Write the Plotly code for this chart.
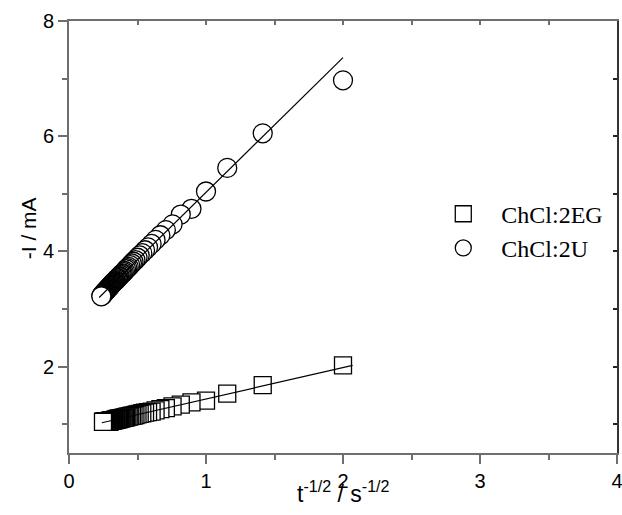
import plotly.graph_objects as go

# t^-1/2 values (s^-1/2)
x_2U = [2.000, 1.414, 1.155, 1.000, 0.894, 0.816, 0.756, 0.707, 0.667, 0.632,
        0.603, 0.577, 0.555, 0.535, 0.516, 0.500, 0.485, 0.471, 0.459, 0.447,
        0.436, 0.426, 0.417, 0.408, 0.400, 0.392, 0.385, 0.378, 0.371, 0.365,
        0.359, 0.354, 0.348, 0.343, 0.338, 0.333, 0.329, 0.324, 0.320, 0.316,
        0.312, 0.309, 0.305, 0.302, 0.298, 0.295, 0.292, 0.289, 0.286, 0.283,
        0.280, 0.277, 0.275, 0.272, 0.270, 0.267, 0.265, 0.263, 0.260, 0.258,
        0.256, 0.254, 0.252, 0.250, 0.248, 0.246, 0.244, 0.243, 0.241, 0.239,
        0.237, 0.236]
y_2U = [6.97, 6.05, 5.45, 5.04, 4.74, 4.64, 4.47, 4.37, 4.28, 4.20,
        4.13, 4.07, 4.02, 3.97, 3.93, 3.89, 3.85, 3.82, 3.79, 3.76,
        3.73, 3.71, 3.69, 3.66, 3.64, 3.62, 3.61, 3.59, 3.57, 3.56,
        3.54, 3.53, 3.52, 3.50, 3.49, 3.48, 3.47, 3.46, 3.45, 3.44,
        3.43, 3.42, 3.41, 3.40, 3.39, 3.38, 3.37, 3.37, 3.36, 3.35,
        3.34, 3.34, 3.33, 3.32, 3.32, 3.31, 3.30, 3.30, 3.29, 3.29,
        3.28, 3.27, 3.27, 3.26, 3.26, 3.25, 3.25, 3.24, 3.24, 3.23,
        3.23, 3.22]

x_2EG = [2.000, 1.414, 1.155, 1.000, 0.894, 0.816, 0.756, 0.707, 0.667, 0.632,
         0.603, 0.577, 0.555, 0.535, 0.516, 0.500, 0.485, 0.471, 0.459, 0.447,
         0.436, 0.426, 0.417, 0.408, 0.400, 0.392, 0.385, 0.378, 0.371, 0.365,
         0.359, 0.354, 0.348, 0.343, 0.338, 0.333, 0.329, 0.324, 0.320, 0.316,
         0.312, 0.309, 0.305, 0.302, 0.298, 0.295, 0.292, 0.289, 0.286, 0.283,
         0.280, 0.277, 0.275, 0.272, 0.270, 0.267, 0.265, 0.263, 0.260, 0.258,
         0.256, 0.254, 0.252, 0.250, 0.248]
y_2EG = [2.02, 1.68, 1.53, 1.41, 1.38, 1.34, 1.31, 1.28, 1.26, 1.24,
         1.22, 1.21, 1.20, 1.19, 1.18, 1.17, 1.16, 1.15, 1.15, 1.14,
         1.13, 1.13, 1.12, 1.12, 1.11, 1.11, 1.10, 1.10, 1.10, 1.09,
         1.09, 1.09, 1.08, 1.08, 1.08, 1.07, 1.07, 1.07, 1.07, 1.06,
         1.06, 1.06, 1.06, 1.06, 1.05, 1.05, 1.05, 1.05, 1.05, 1.05,
         1.05, 1.04, 1.04, 1.04, 1.04, 1.04, 1.04, 1.04, 1.04, 1.04,
         1.04, 1.04, 1.04, 1.04, 1.04]

# linear fit lines (end points)
fit_x_2U = [0.22, 2.00]
fit_y_2U = [3.20, 7.365]
fit_x_2EG = [0.24, 2.07]
fit_y_2EG = [1.025, 2.02]

names = ["ChCl:2EG", "ChCl:2U"]
x_ticks = [0, 1, 2, 3, 4]
y_ticks = [2, 4, 6, 8]

NBSP = "\u00a0"
fig = go.Figure()
fig.add_trace(go.Scatter(
    x=x_2EG, y=y_2EG, mode="markers", name=NBSP * 3 + names[0],
    legendgroup="a",
    marker=dict(symbol="square", size=17, color="white",
                line=dict(color="black", width=1.3))))
fig.add_trace(go.Scatter(
    x=x_2U, y=y_2U, mode="markers", name=NBSP * 3 + names[1],
    legendgroup="b",
    marker=dict(symbol="circle", size=19, color="white",
                line=dict(color="black", width=1.3))))
fig.add_trace(go.Scatter(x=fit_x_2EG, y=fit_y_2EG, mode="lines",
                         line=dict(color="black", width=1.2), showlegend=False))
fig.add_trace(go.Scatter(x=fit_x_2U, y=fit_y_2U, mode="lines",
                         line=dict(color="black", width=1.2), showlegend=False))
# dummy trace so the mirrored top/right axes are drawn
fig.add_trace(go.Scatter(x=[0, 4], y=[0.5, 0.5], xaxis="x2", yaxis="y2",
                         mode="lines", line=dict(width=0), hoverinfo="skip",
                         showlegend=False))

axcol = "#6e6e6e"
tickfont = dict(family="Liberation Sans, Arial", size=20, color="black")
fig.update_layout(
    width=622, height=515,
    margin=dict(l=69, r=5, t=21, b=62, autoexpand=False),
    paper_bgcolor="white", plot_bgcolor="white",
    xaxis=dict(range=[0, 4], tickvals=x_ticks, ticks="outside", ticklen=9,
               tickwidth=1.5, tickcolor=axcol, showline=True, linecolor=axcol,
               linewidth=2, showgrid=False, zeroline=False, tickfont=tickfont,
               ticklabeloverflow="allow", automargin=False,
               minor=dict(dtick=0.5, ticks="outside", ticklen=5, tickwidth=1.5,
                          tickcolor=axcol, showgrid=False)),
    yaxis=dict(range=[0.5, 8], tickvals=y_ticks, ticks="outside", ticklen=9,
               tickwidth=1.5, tickcolor=axcol, showline=True, linecolor=axcol,
               linewidth=2, showgrid=False, zeroline=False, tickfont=tickfont,
               ticklabeloverflow="allow", automargin=False,
               minor=dict(dtick=1, tick0=0, ticks="outside", ticklen=5,
                          tickwidth=1.5, tickcolor=axcol, showgrid=False)),
    xaxis2=dict(range=[0, 4], overlaying="x", side="top", anchor="y",
                dtick=0.5, tick0=0, ticks="inside", ticklen=4, tickwidth=1.5,
                tickcolor=axcol, showline=True, linecolor=axcol, linewidth=2,
                showticklabels=False, showgrid=False, zeroline=False,
                automargin=False),
    yaxis2=dict(range=[0.5, 8], overlaying="y", side="right", anchor="x",
                dtick=1, tick0=0, ticks="inside", ticklen=4, tickwidth=1.5,
                tickcolor="#222", showline=True, linecolor="#333", linewidth=2,
                showticklabels=False, showgrid=False, zeroline=False,
                automargin=False),
    legend=dict(x=0.683, y=0.605, xanchor="left", yanchor="top",
                bgcolor="rgba(0,0,0,0)", traceorder="grouped",
                tracegroupgap=0,
                font=dict(family="Liberation Serif, Times New Roman",
                          size=24, color="black")),
    annotations=[
        dict(text="t<sup>-1/2</sup> / s<sup>-1/2</sup>", xref="paper",
             yref="paper", x=0.5, y=-0.09, xanchor="center", yanchor="middle",
             showarrow=False,
             font=dict(family="Liberation Sans, Arial", size=23, color="black")),
        dict(text="-I / mA", xref="paper", yref="paper", x=-0.075, y=0.52,
             xanchor="center", yanchor="middle", textangle=-90,
             showarrow=False,
             font=dict(family="Liberation Sans, Arial", size=21, color="black")),
    ],
    showlegend=True,
)

fig.write_html("out.html")
